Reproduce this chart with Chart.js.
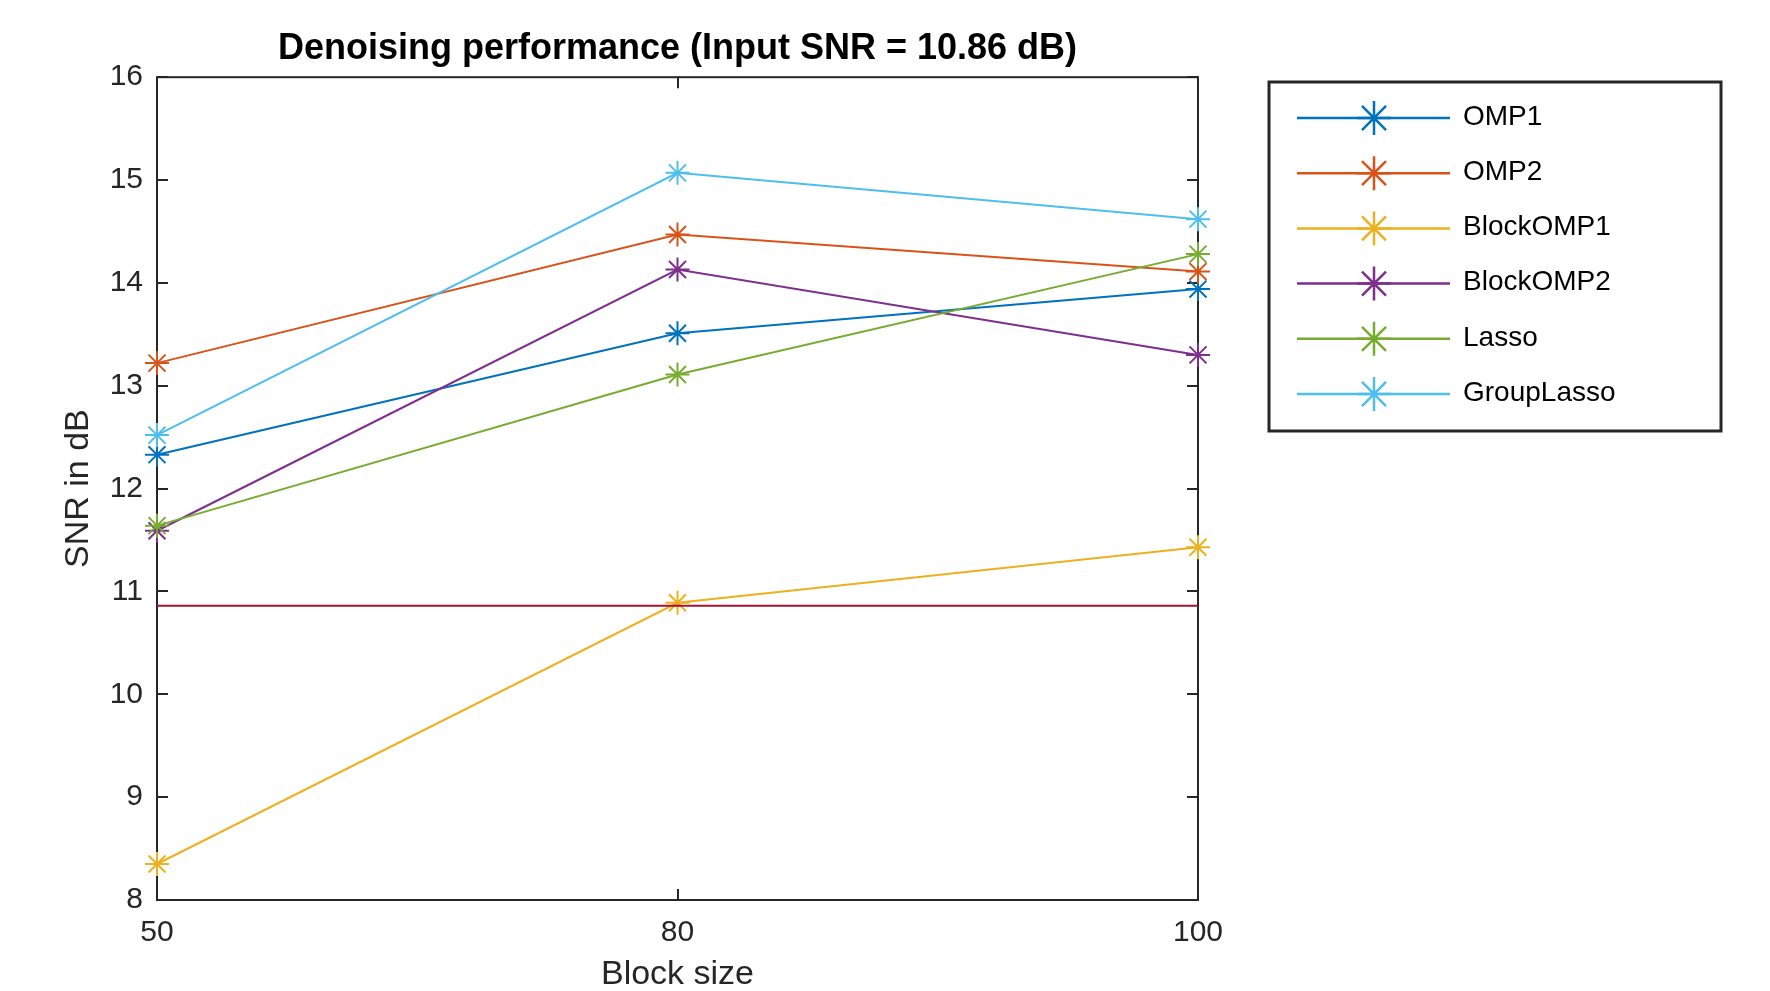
<!DOCTYPE html>
<html>
<head>
<meta charset="utf-8">
<script src="https://cdn.jsdelivr.net/npm/chart.js@4/dist/chart.umd.min.js"></script>
<style>
  html, body { margin: 0; padding: 0; background: #fff; }
  #wrap { width: 1770px; height: 991px; position: relative; }
</style>
</head>
<body>
<div id="wrap"><canvas id="chart" width="1770" height="991"></canvas></div>
<script>
// Data
const blockSizes = ["50", "80", "100"];
const omp1 = [12.33, 13.51, 13.94];
const omp2 = [13.22, 14.47, 14.11];
const blockOmp1 = [8.35, 10.89, 11.43];
const blockOmp2 = [11.59, 14.13, 13.30];
const lasso = [11.64, 13.11, 14.28];
const groupLasso = [12.52, 15.07, 14.62];
const inputSnr = [10.86, 10.86, 10.86];
const yTicks = [8, 9, 10, 11, 12, 13, 14, 15, 16];

const FONT = "'Liberation Sans', Arial, Helvetica, sans-serif";
const AXIS = "#262626";

const series = [
  {label: "OMP1", data: omp1, color: "#0072BD"},
  {label: "OMP2", data: omp2, color: "#D95319"},
  {label: "BlockOMP1", data: blockOmp1, color: "#EDB120"},
  {label: "BlockOMP2", data: blockOmp2, color: "#7E2F8E"},
  {label: "Lasso", data: lasso, color: "#77AC30"},
  {label: "GroupLasso", data: groupLasso, color: "#4DBEEE"}
];

const datasets = series.map((s, i) => ({
  label: s.label,
  data: s.data,
  borderColor: s.color,
  backgroundColor: s.color,
  borderWidth: 2,
  pointStyle: "star",
  pointRadius: 12,
  pointBorderWidth: 2,
  pointBorderColor: s.color,
  pointBackgroundColor: "rgba(0,0,0,0)",
  tension: 0,
  clip: false,
  order: 10 - i
}));
datasets.push({
  label: "Input SNR",
  data: inputSnr,
  borderColor: "#A2142F",
  borderWidth: 2,
  pointRadius: 0,
  clip: false,
  order: 0,
  noLegend: true
});

// axes box with inward ticks, like MATLAB
const boxPlugin = {
  id: "box",
  beforeDatasetsDraw(chart) {
    const {ctx, chartArea: a, scales} = chart;
    const tl = 11;
    ctx.save();
    ctx.strokeStyle = AXIS;
    ctx.lineWidth = 2;
    ctx.beginPath();
    yTicks.forEach(v => {
      const y = Math.round(scales.y.getPixelForValue(v));
      ctx.moveTo(a.left, y); ctx.lineTo(a.left + tl, y);
      ctx.moveTo(a.right, y); ctx.lineTo(a.right - tl, y);
    });
    blockSizes.forEach((_, i) => {
      const x = Math.round(scales.x.getPixelForValue(i));
      ctx.moveTo(x, a.bottom); ctx.lineTo(x, a.bottom - tl);
      ctx.moveTo(x, a.top); ctx.lineTo(x, a.top + tl);
    });
    ctx.stroke();
    ctx.strokeRect(a.left, a.top, a.right - a.left, a.bottom - a.top);
    ctx.restore();
  }
};

// boxed legend at the right
const legendPlugin = {
  id: "boxLegend",
  afterDraw(chart) {
    const ctx = chart.ctx;
    const bx = 1269, by = 82, bw = 452, bh = 349;
    const rowY0 = 118, rowStep = 55.2;
    ctx.save();
    ctx.fillStyle = "#fff";
    ctx.fillRect(bx, by, bw, bh);
    ctx.strokeStyle = AXIS;
    ctx.lineWidth = 3;
    ctx.strokeRect(bx, by, bw, bh);
    let row = 0;
    chart.data.datasets.forEach(ds => {
      if (ds.noLegend) return;
      const y = rowY0 + row * rowStep;
      ctx.strokeStyle = ds.borderColor;
      ctx.lineWidth = 2.5;
      ctx.beginPath();
      ctx.moveTo(1297, y); ctx.lineTo(1450, y);
      ctx.stroke();
      ctx.fillStyle = "rgba(0,0,0,0)";
      Chart.helpers.drawPoint(ctx, {pointStyle: "star", radius: 17, rotation: 0, borderWidth: 2.5}, 1374, y);
      ctx.fillStyle = "#000";
      ctx.font = "28px " + FONT;
      ctx.textAlign = "left";
      ctx.textBaseline = "middle";
      ctx.fillText(ds.label, 1463, y - 1);
      row++;
    });
    ctx.restore();
  }
};

const ctx = document.getElementById("chart").getContext("2d");
const chart = new Chart(ctx, {
  type: "line",
  data: { labels: blockSizes, datasets: datasets },
  plugins: [boxPlugin, legendPlugin],
  options: {
    responsive: false,
    animation: false,
    layout: { padding: { left: 0, right: 572, top: 0, bottom: 0 } },
    plugins: {
      legend: { display: false },
      tooltip: { enabled: false },
      title: {
        display: true,
        text: "Denoising performance (Input SNR = 10.86 dB)",
        color: "#000",
        fullSize: false,
        font: { family: FONT, size: 36, weight: "bold", lineHeight: 1.2 },
        padding: { top: 27, bottom: 7 }
      }
    },
    scales: {
      x: {
        type: "category",
        offset: false,
        grid: { display: false, drawTicks: false },
        border: { display: false },
        ticks: { color: AXIS, padding: 15, font: { family: FONT, size: 30 }, maxRotation: 0 },
        title: {
          display: true, text: "Block size", color: AXIS,
          font: { family: FONT, size: 34, lineHeight: 0.95 },
          padding: { top: 0, bottom: 0 }
        },
        afterFit: s => { s.height = 91; }
      },
      y: {
        min: 8, max: 16,
        grid: { display: false, drawTicks: false },
        border: { display: false },
        ticks: { stepSize: 1, color: AXIS, padding: 14, font: { family: FONT, size: 30 } },
        title: {
          display: true, text: "SNR in dB", color: AXIS,
          font: { family: FONT, size: 34, lineHeight: 1.05 },
          padding: { top: 61, bottom: 0 }
        },
        afterFit: s => { s.width = 157; }
      }
    }
  }
});
</script>
</body>
</html>
